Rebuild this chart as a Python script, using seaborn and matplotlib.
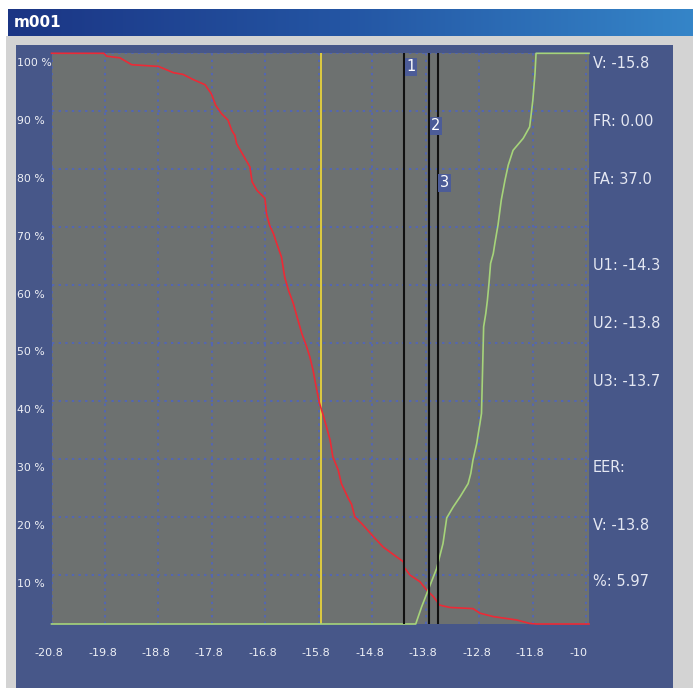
import numpy as np
import matplotlib
matplotlib.use("Agg")
import matplotlib.pyplot as plt
import matplotlib.transforms as mtransforms
from matplotlib.patches import Rectangle
import seaborn as sns

# FR curve (red) and FA curve (green)
fr_x = [-20.8, -19.82, -19.77, -19.52, -19.30, -18.80, -18.62, -18.52, -18.34, -18.15,
        -17.93, -17.81, -17.73, -17.62, -17.50, -17.43, -17.37, -17.34, -17.25, -17.09,
        -17.05, -16.96, -16.81, -16.78, -16.72, -16.65, -16.59, -16.50, -16.44, -16.37,
        -16.28, -16.19, -16.12, -16.03, -15.97, -15.91, -15.84, -15.79, -15.73, -15.66,
        -15.59, -15.54, -15.44, -15.38, -15.25, -15.19, -15.13, -15.00, -14.78, -14.60,
        -14.44, -14.22, -14.21, -14.10, -13.91, -13.79, -13.66, -13.54, -13.35, -12.92,
        -12.79, -12.54, -12.10, -11.86, -11.73, -10.75]
fr_y = [100, 100, 99.5, 99.2, 98.0, 97.7, 97.0, 96.6, 96.3, 95.4,
        94.5, 92.9, 90.9, 89.4, 88.3, 86.5, 85.6, 84.2, 82.7, 80.1,
        77.5, 76.0, 74.6, 71.9, 69.8, 68.4, 66.7, 64.3, 60.8, 58.5,
        56.2, 53.2, 50.9, 48.6, 46.8, 44.5, 41.0, 38.7, 36.9, 34.6,
        32.2, 29.3, 27.0, 24.6, 22.0, 21.0, 18.8, 17.6, 15.3, 13.5,
        12.4, 10.9, 10.0, 8.6, 7.4, 6.0, 4.8, 3.3, 2.9, 2.7,
        1.9, 1.3, 0.7, 0.1, 0.0, 0.0]

fa_x = [-20.8, -13.99, -13.88, -13.78, -13.60, -13.48, -13.41, -13.29, -13.16, -13.01,
        -12.96, -12.92, -12.85, -12.82, -12.79, -12.76, -12.74, -12.72, -12.68, -12.65,
        -12.62, -12.59, -12.54, -12.51, -12.45, -12.39, -12.32, -12.26, -12.17, -11.98,
        -11.86, -11.83, -11.80, -11.76, -11.74, -10.75]
fa_y = [0, 0, 3.0, 5.4, 9.7, 14.1, 18.6, 20.5, 22.3, 24.6,
        26.4, 28.7, 31.6, 33.4, 35.1, 36.9, 44.5, 52.1, 54.4, 56.7,
        59.7, 63.2, 64.9, 66.7, 70.0, 74.3, 77.8, 80.4, 83.0, 85.1,
        87.1, 89.4, 91.8, 96.4, 100, 100]

v_line = -15.77
user_lines = [-14.21, -13.74, -13.58]
user_names = ["1", "2", "3"]

x_ticks = [-20.8, -19.8, -18.8, -17.8, -16.8, -15.8, -14.8, -13.8, -12.8, -11.8, -10.8]
x_labels = ["-20.8", "-19.8", "-18.8", "-17.8", "-16.8", "-15.8", "-14.8", "-13.8",
            "-12.8", "-11.8", "-10"]
y_labels = ["100 %", "90 %", "80 %", "70 %", "60 %", "50 %", "40 %", "30 %", "20 %", "10 %"]

info_text = ["V: -15.8", "FR: 0.00", "FA: 37.0", "U1: -14.3", "U2: -13.8", "U3: -13.7",
             "EER:", "V: -13.8", "%: 5.97"]
info_rows = [63, 121, 179, 265, 323, 381, 468, 525, 582]

W, H = 693, 688
fig = plt.figure(figsize=(W / 100, H / 100), dpi=100, facecolor="white")


def px(x0, y0, x1, y1):
    # pixel box (top-left origin) -> figure fraction rect
    return [x0 / W, 1 - y1 / H, (x1 - x0) / W, (y1 - y0) / H]


# window chrome
fig.patches.append(Rectangle((6 / W, 0), 1, 1 - 36 / H, transform=fig.transFigure,
                             facecolor="#d3d3d3", edgecolor="none", zorder=-3))
fig.patches.append(Rectangle((16 / W, 0), (673 - 16) / W, 1 - 45 / H, transform=fig.transFigure,
                             facecolor="#475789", edgecolor="none", zorder=-2))

tax = fig.add_axes(px(8, 9, 693, 36))
grad = np.linspace(0, 1, 256).reshape(1, -1)
cmap = matplotlib.colors.LinearSegmentedColormap.from_list("tb", ["#1b3584", "#2456a4", "#3585c8"])
tax.imshow(grad, aspect="auto", cmap=cmap, extent=[0, 1, 0, 1])
tax.set_axis_off()
tax.text(0.009, 0.5, "m001", color="white", fontsize=11, fontweight="bold",
         va="center", ha="left", transform=tax.transAxes)

# plot area
ax = fig.add_axes(px(51.5, 53.3, 589, 624))
ax.set_facecolor("#6d7170")
sns.lineplot(x=fr_x, y=fr_y, ax=ax, color="#ec2a36", linewidth=1.2,
             estimator=None, sort=False, clip_on=False, zorder=4)
sns.lineplot(x=fa_x, y=fa_y, ax=ax, color="#a6d47a", linewidth=1.2,
             estimator=None, sort=False, clip_on=False, zorder=4)

ax.axvline(v_line, color="#e6d23c", linewidth=1.3, zorder=3)
for xv in user_lines:
    ax.axvline(xv, color="#111111", linewidth=1.5, zorder=5)

label_rows = [0.976, 0.873, 0.773]
trans = mtransforms.blended_transform_factory(ax.transData, ax.transAxes)
for xv, name, ry in zip(user_lines, user_names, label_rows):
    ax.text(xv + 0.13, ry, name, transform=trans, ha="center", va="center",
            color="white", fontsize=10.5, zorder=6,
            bbox=dict(boxstyle="square,pad=0.12", facecolor="#4c5c98", edgecolor="none"))

ax.set_xlim(-20.8, -10.75)
ax.set_ylim(0, 100)
y_ticks = [100 - 10.15 * k for k in range(len(y_labels))]
ax.set_xticks(x_ticks)
ax.set_xticklabels(x_labels)
ax.set_yticks(y_ticks)
ax.set_yticklabels(y_labels)
ax.grid(True, color="#5366b4", linestyle=(0, (1.2, 2.2)), linewidth=1.4)
ax.set_axisbelow(True)
for s in ax.spines.values():
    s.set_visible(False)

ax.tick_params(axis="x", length=0, pad=17, colors="#eef0f6", labelsize=8)
ax.tick_params(axis="y", length=0, pad=25, colors="#eef0f6", labelsize=7.8)
xoff = mtransforms.ScaledTranslation(-17 / 100, 0, fig.dpi_scale_trans)
for lab in ax.get_xticklabels():
    lab.set_horizontalalignment("left")
    lab.set_transform(lab.get_transform() + xoff)
yoff = mtransforms.ScaledTranslation(0, -8.5 / 100, fig.dpi_scale_trans)
for lab in ax.get_yticklabels():
    lab.set_horizontalalignment("left")
    lab.set_transform(lab.get_transform() + yoff)

for txt, row in zip(info_text, info_rows):
    fig.text(593 / W, 1 - row / H, txt, color="#e4e7f2", fontsize=10.5,
             ha="left", va="center")

fig.savefig("out.png", dpi=100, facecolor=fig.get_facecolor())
